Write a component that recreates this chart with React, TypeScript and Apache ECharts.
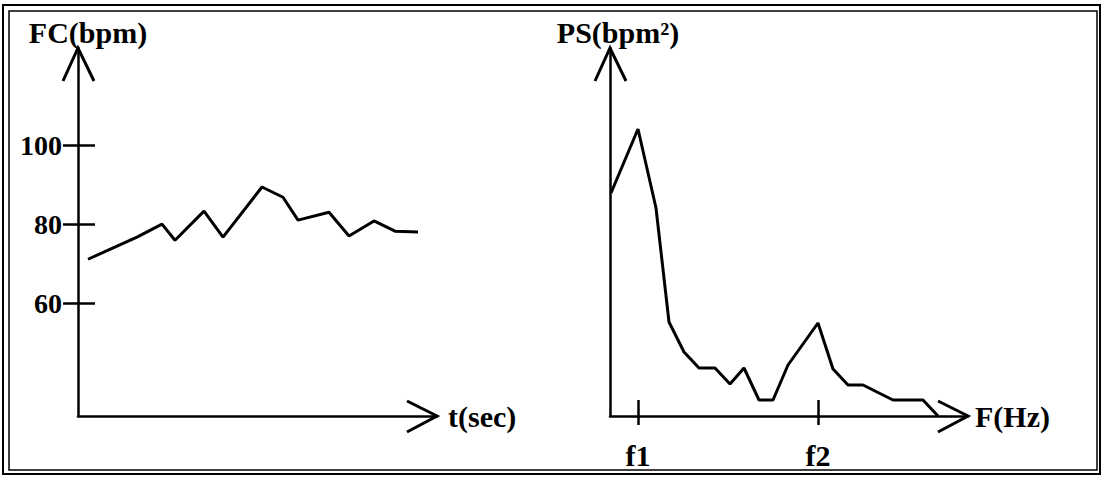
import React, { useEffect, useRef } from "react";
import * as echarts from "echarts";

// Heart-rate signal (left panel)
const tSeconds = [10, 59, 84, 97, 126, 145, 184, 205, 220, 251, 271, 296, 317, 340];
const heartRate = [71.1, 76.7, 80, 75.9, 83.3, 76.7, 89.4, 86.8, 81.0, 83.0, 77.0, 80.8, 78.2, 78.0];
const hrTickValues = [60, 80, 100];
const hrTickLabels = ["60", "80", "100"];

// Power spectrum (right panel)
const freq = [1, 28, 46, 59, 74, 89, 105, 120, 134, 149, 163, 178, 208, 223, 238, 253, 283, 313, 328];
const power = [223, 287, 208, 94, 64, 48, 48, 32, 48, 16, 16, 51, 93, 47, 31, 31, 16, 16, 0];
const freqTickValues = [28, 208];
const freqTickLabels = ["f1", "f2"];

const FONT = "Liberation Serif";
const G1 = { left: 78, top: 48, width: 359, height: 368 };
const G2 = { left: 610, top: 48, width: 358, height: 368 };

export default function App() {
  const ref = useRef<HTMLDivElement>(null);
  useEffect(() => {
    if (!ref.current) return;
    const chart = echarts.init(ref.current, null, { renderer: "svg" });
    const black = "#000";
    const lbl = { fontFamily: FONT, fontWeight: "bold", fontSize: 28, color: black };
    const big = { ...lbl, fontSize: 30 };
    const axisLine = { show: true, lineStyle: { color: black, width: 2.5 } };
    const tickStyle = { color: black, width: 2.5 };

    const arrowsFor = (g: any) => {
      const x0 = g.left, yb = g.top + g.height, xr = g.left + g.width, yt = g.top;
      return [
        { type: "polyline", shape: { points: [[x0 - 15, yt + 33], [x0, yt], [x0 + 16, yt + 33]] }, style: { stroke: black, lineWidth: 3, fill: "none" } },
        { type: "polyline", shape: { points: [[xr - 30, yb - 15], [xr, yb], [xr - 30, yb + 16]] }, style: { stroke: black, lineWidth: 3, fill: "none" } },
      ];
    };

    const hrRange = { min: 31.4, max: 124.6 };
    const fRange = { min: 0, max: 358 };

    chart.setOption({
      animation: false,
      backgroundColor: "#fff",
      grid: [
        { ...G1, containLabel: false },
        { ...G2, containLabel: false },
      ],
      xAxis: [
        {
          gridIndex: 0, type: "value", min: 0, max: 359, position: "bottom",
          axisLine, axisTick: { show: false }, axisLabel: { show: false }, splitLine: { show: false },
          name: "t(sec)", nameLocation: "end", nameGap: 11, nameTextStyle: { ...big, verticalAlign: "middle" },
        },
        {
          gridIndex: 1, type: "value", ...fRange, position: "bottom",
          axisLine, splitLine: { show: false }, axisTick: { show: false },
          axisLabel: {
            show: true, customValues: freqTickValues, margin: 24, ...big,
            formatter: (v: number) => freqTickLabels[freqTickValues.indexOf(v)] ?? "",
          },
          name: "F(Hz)", nameLocation: "end", nameGap: 7, nameTextStyle: { ...big, verticalAlign: "middle" },
        },
        {
          gridIndex: 1, type: "value", ...fRange, position: "bottom",
          axisLine: { show: false }, splitLine: { show: false }, axisLabel: { show: false },
          axisTick: { show: true, inside: false, length: 9, customValues: freqTickValues, lineStyle: tickStyle },
        },
        {
          gridIndex: 1, type: "value", ...fRange, position: "bottom",
          axisLine: { show: false }, splitLine: { show: false }, axisLabel: { show: false },
          axisTick: { show: true, inside: true, length: 16, customValues: freqTickValues, lineStyle: tickStyle },
        },
      ],
      yAxis: [
        {
          gridIndex: 0, type: "value", ...hrRange, position: "left",
          axisLine, splitLine: { show: false }, axisTick: { show: false },
          axisLabel: {
            show: true, customValues: hrTickValues, margin: 16, ...lbl,
            formatter: (v: number) => hrTickLabels[hrTickValues.indexOf(v)] ?? "",
          },
        },
        {
          gridIndex: 0, type: "value", ...hrRange, position: "left",
          axisLine: { show: false }, splitLine: { show: false }, axisLabel: { show: false },
          axisTick: { show: true, inside: false, length: 15, customValues: hrTickValues, lineStyle: tickStyle },
        },
        {
          gridIndex: 0, type: "value", ...hrRange, position: "left",
          axisLine: { show: false }, splitLine: { show: false }, axisLabel: { show: false },
          axisTick: { show: true, inside: true, length: 17, customValues: hrTickValues, lineStyle: tickStyle },
        },
        {
          gridIndex: 1, type: "value", min: 0, max: 368, position: "left",
          axisLine, splitLine: { show: false }, axisTick: { show: false }, axisLabel: { show: false },
        },
      ],
      series: [
        {
          type: "line", xAxisIndex: 0, yAxisIndex: 0, symbol: "none",
          lineStyle: { color: black, width: 3 },
          data: tSeconds.map((t, i) => [t, heartRate[i]]),
        },
        {
          type: "line", xAxisIndex: 1, yAxisIndex: 3, symbol: "none",
          lineStyle: { color: black, width: 3 },
          data: freq.map((f, i) => [f, power[i]]),
        },
      ],
      graphic: [
        { type: "rect", shape: { x: 3, y: 5, width: 1097, height: 469 }, style: { stroke: black, lineWidth: 2, fill: "none" }, silent: true },
        { type: "rect", shape: { x: 9, y: 11, width: 1088, height: 459 }, style: { stroke: black, lineWidth: 1.5, fill: "none" }, silent: true },
        ...arrowsFor(G1),
        ...arrowsFor(G2),
        { type: "text", x: 88, y: 32, style: { text: "FC(bpm)", font: `bold 30px "${FONT}"`, fill: black, textAlign: "center", textVerticalAlign: "middle" } },
        { type: "text", x: 618, y: 32, style: { text: "PS(bpm²)", font: `bold 30px "${FONT}"`, fill: black, textAlign: "center", textVerticalAlign: "middle" } },
      ],
    });
    return () => chart.dispose();
  }, []);
  return <div ref={ref} style={{ position: "absolute", left: 0, top: 0, width: 1103, height: 480 }} />;
}
